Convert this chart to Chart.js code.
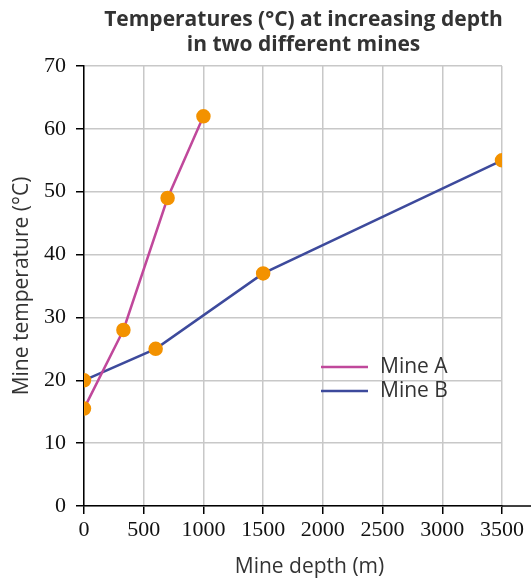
<!DOCTYPE html>
<html>
<head>
<meta charset="utf-8">
<script src="https://cdn.jsdelivr.net/npm/chart.js@4/dist/chart.umd.min.js"></script>
<style>
  body { margin: 0; background: #fff; }
  #wrap { width: 531px; height: 581px; }
</style>
</head>
<body>
<div id="wrap"><canvas id="mineChart" width="531" height="581"></canvas></div>
<script>
// data
const titleLines = ["Temperatures (°C) at increasing depth", "in two different mines"];
const seriesNames = ["Mine A", "Mine B"];
const mineADepth = [0, 330, 700, 1000];
const mineATemp = [15.5, 28, 49, 62];
const mineBDepth = [0, 600, 1500, 3500];
const mineBTemp = [20, 25, 37, 55];
const xTicks = [0, 500, 1000, 1500, 2000, 2500, 3000, 3500];
const yTicks = [0, 10, 20, 30, 40, 50, 60, 70];

const lineColors = ["#c0489b", "#3d4a9c"];
const dotColor = "#f39200";
const textColor = "#333";
const sans = "'Open Sans', sans-serif";
const serif = "'Liberation Serif', serif";

const toPoints = (xs, ys) => xs.map((x, i) => ({ x: x, y: ys[i] }));

// title, x axis title, legend and the axis line running past 3500
const extras = {
  id: "extras",
  afterDraw(chart) {
    const ctx = chart.ctx;
    const area = chart.chartArea;
    const cx = (area.left + chart.width) / 2;
    ctx.save();

    ctx.strokeStyle = "#000";
    ctx.lineWidth = 1.5;
    ctx.beginPath();
    ctx.moveTo(area.right, area.bottom);
    ctx.lineTo(chart.width, area.bottom);
    ctx.stroke();

    ctx.fillStyle = textColor;
    ctx.textAlign = "center";
    ctx.textBaseline = "middle";
    ctx.font = "bold 21px " + sans;
    ctx.fillText(titleLines[0], cx - 4, 20);
    ctx.fillText(titleLines[1], cx - 4, 45);

    ctx.font = "21px " + sans;
    ctx.fillText("Mine depth (m)", cx + 2, 567);

    ctx.textAlign = "left";
    chart.data.datasets.forEach((ds, i) => {
      const y = 367 + i * 24;
      ctx.strokeStyle = ds.borderColor;
      ctx.lineWidth = 2.5;
      ctx.beginPath();
      ctx.moveTo(321, y);
      ctx.lineTo(368, y);
      ctx.stroke();
      ctx.fillStyle = textColor;
      ctx.fillText(ds.label, 380, y);
    });
    ctx.restore();
  }
};

new Chart(document.getElementById("mineChart"), {
  type: "scatter",
  data: {
    datasets: [
      {
        label: seriesNames[0],
        data: toPoints(mineADepth, mineATemp),
        showLine: true,
        borderColor: lineColors[0],
        borderWidth: 2.5,
        pointBackgroundColor: dotColor,
        pointBorderColor: dotColor,
        pointRadius: 6
      },
      {
        label: seriesNames[1],
        data: toPoints(mineBDepth, mineBTemp),
        showLine: true,
        borderColor: lineColors[1],
        borderWidth: 2.5,
        pointBackgroundColor: dotColor,
        pointBorderColor: dotColor,
        pointRadius: 6
      }
    ]
  },
  options: {
    responsive: false,
    animation: false,
    layout: { padding: { top: 66, right: 29, bottom: 0, left: 0 } },
    plugins: {
      legend: { display: false },
      title: { display: false },
      tooltip: { enabled: false }
    },
    scales: {
      x: {
        type: "linear",
        min: xTicks[0],
        max: xTicks[xTicks.length - 1],
        afterBuildTicks: (s) => { s.ticks = xTicks.map(v => ({ value: v })); },
        afterFit: (s) => { s.height = 75; },
        ticks: {
          color: "#111",
          font: { family: serif, size: 22 },
          padding: 3,
          maxRotation: 0,
          callback: (v) => String(v)
        },
        grid: { color: "#c8c8c8", lineWidth: 1.5, tickColor: "#000", tickLength: 8 },
        border: { color: "#000", width: 1.5 }
      },
      y: {
        min: yTicks[0],
        max: yTicks[yTicks.length - 1],
        afterBuildTicks: (s) => { s.ticks = yTicks.map(v => ({ value: v })); },
        afterFit: (s) => { s.width = 84; },
        ticks: {
          color: "#111",
          font: { family: serif, size: 22 },
          padding: 10,
          callback: (v) => String(v)
        },
        grid: { color: "#c8c8c8", lineWidth: 1.5, tickColor: "#000", tickLength: 8 },
        border: { color: "#000", width: 1.5 },
        title: {
          display: true,
          text: "Mine temperature (°C)",
          color: textColor,
          font: { family: sans, size: 21 },
          padding: { top: 9, bottom: 0 }
        }
      }
    }
  },
  plugins: [extras]
});
</script>
</body>
</html>
